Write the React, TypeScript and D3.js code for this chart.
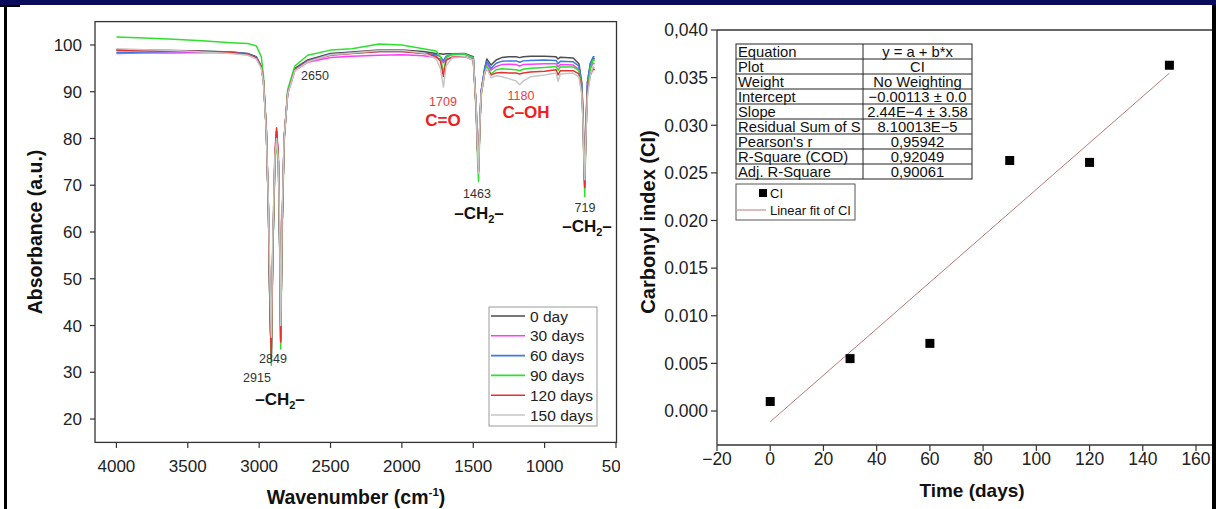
import React from 'react';
import * as d3 from 'd3';

// ---------- Left chart data (FTIR spectra) ----------
const wavenumbers = [4000,3800,3600,3400,3200,3080,3020,2985,2970,2950,2935,2925,2915,2905,2890,2878,2865,2855,2849,2840,2825,2800,2750,2660,2500,2350,2160,2000,1850,1760,1730,1709,1690,1650,1560,1500,1480,1470,1463,1455,1445,1420,1405,1375,1340,1300,1250,1200,1175,1150,1100,1000,920,906,890,800,760,740,730,725,719,712,700,680,660,650];

const day0 = [99.0,98.9,98.8,98.7,98.5,98.2,97.5,95.5,92.5,82,65,45,33.5,55,75,81.5,75,55,37,60,80,90,95,96.8,98.2,98.5,98.9,98.9,98.6,98.2,98.1,98.0,98.1,98.1,98.2,97.5,87,78,73.5,82,90,95,97,95.7,96.8,97.3,97.5,97.5,97.3,97.5,97.6,97.6,97.5,97.0,97.4,97.2,96.0,92,85,77,70,82,92,96,97.2,97.0];
const day30 = [98.2,98.3,98.3,98.4,98.3,98.0,97.3,95.3,92.3,82,65,45,33.5,55,75,81.5,75,55,37,60,80,89.5,94.5,96.3,97.3,97.6,97.8,97.9,97.7,97.3,97.0,96.2,97.0,97.3,97.5,97.0,87,78,73,82,90,94.5,96,94.6,95.4,95.8,95.9,95.8,95.5,95.8,95.9,96.0,96.0,95.3,95.8,95.7,94.8,91,84,76,69.5,81,91,95,96.1,96.0];
const day60 = [98.4,98.5,98.6,98.6,98.5,98.1,97.4,95.4,92.4,82,65,45,33,55,75,81.5,75,55,36.5,60,80,89.8,94.8,96.6,98.0,98.3,98.6,98.6,98.3,97.9,97.5,96.6,97.6,97.9,98.0,97.3,87,78,73,82,90,95,96.5,95,96.1,96.5,96.6,96.6,96.3,96.6,96.7,96.8,96.7,96.0,96.5,96.4,95.5,91.5,84.5,76.5,69.8,81.5,92,96,97.5,97.5];
const day90 = [101.7,101.5,101.2,100.9,100.5,100.3,99.8,97.5,93.5,82,64,44,31.5,54,74,80,74,54,35,58,79,90.5,95.5,97.8,98.9,99.2,100.2,100.0,99.2,98.7,97.5,94.0,97.3,98.0,98.1,97.3,86,76,70.8,81,89,94,95.5,93.8,94.7,94.9,94.8,94.7,94.5,94.8,95.0,95.2,95.4,94.6,95.3,95.3,94.5,90.5,83,74,67.6,79,90,95,96.8,96.6];
const day120 = [98.8,98.8,98.7,98.6,98.4,98.0,97.2,95.3,92.3,82,65,45,33,56,77,82.3,76,56,36.5,60,80,89.7,94.7,96.5,97.8,98.2,98.6,98.6,98.2,97.6,96.5,93.3,96.7,97.4,97.5,96.8,86.5,77.5,73,81.5,89.5,94,95,93.6,94.0,94.1,94.0,94.0,93.8,94.0,94.2,94.4,94.7,93.6,94.5,94.5,93.8,90,83.5,75.5,69.5,80,90,93.5,95.0,94.6];
const day150 = [99.2,99.0,98.8,98.5,98.2,97.8,97.0,95,92,81.5,66,50,37.5,58,76,80,75,58,40,62,80,89.5,94.5,96.4,97.9,98.3,98.8,98.8,98.3,97.0,95.0,91.0,95.5,97.2,97.5,96.8,87,78,72.5,82,89.5,94,95,93,93.4,93.2,92.8,92.3,91.5,92.3,93.2,93.6,94.0,92.2,93.8,94.0,93.2,89.5,83,76,71.2,80,89,93.5,95.4,95.0];

const seriesNames = ['0 day', '30 days', '60 days', '90 days', '120 days', '150 days'];
const seriesValues = [day0, day30, day60, day90, day120, day150];
const seriesColors = ['#4d4d4d', '#ff3cff', '#3a7be0', '#2ee02e', '#e53232', '#c6c6c6'];

const absTicks = [20, 30, 40, 50, 60, 70, 80, 90, 100];
const wnTicks = [4000, 3500, 3000, 2500, 2000, 1500, 1000, 500];

// ---------- Right chart data (carbonyl index) ----------
const timeDays = [0, 30, 60, 90, 120, 150];
const carbonylIndex = [0.0010, 0.0055, 0.0071, 0.0263, 0.0261, 0.0363];
const fitIntercept = -0.00113;
const fitSlope = 2.44e-4;
const fitRange = [0, 150];
const ciTicks = [0, 0.005, 0.01, 0.015, 0.02, 0.025, 0.03, 0.035, 0.04];
const ciTickLabels = ['0.000', '0.005', '0.010', '0.015', '0.020', '0.025', '0.030', '0.035', '0,040'];
const timeTicks = [-20, 0, 20, 40, 60, 80, 100, 120, 140, 160];
const tableLabels = ['Equation', 'Plot', 'Weight', 'Intercept', 'Slope', 'Residual Sum of S', "Pearson's r", 'R-Square (COD)', 'Adj. R-Square'];
const tableValues = ['y = a + b*x', 'CI', 'No Weighting', '\u22120.00113 \u00b1 0.0', '2.44E\u22124 \u00b1 3.58', '8.10013E\u22125', '0,95942', '0,92049', '0,90061'];

const FONT = '"Liberation Sans", Arial, Helvetica, sans-serif';

function CH2({ x, y }: { x: number; y: number }) {
  return (
    <text x={x} y={y} textAnchor="middle" fontFamily={FONT} fontWeight="bold" fontSize={17} fill="#111">
      –CH<tspan fontSize={11} dy={4}>2</tspan><tspan dy={-4}>–</tspan>
    </text>
  );
}

export default function App() {
  // Left chart scales
  const xL = d3.scaleLinear().domain([4150, 500]).range([95, 616]);
  const yL = d3.scaleLinear().domain([15, 105]).range([442.4, 21.6]);
  const line = d3
    .line<number>()
    .x((_, i) => xL(wavenumbers[i]))
    .y((d) => yL(d));

  // Right chart scales
  const xR = d3.scaleLinear().domain([-20, 160]).range([717, 1196]);
  const yR = d3.scaleLinear().domain([0, 0.04]).range([411, 30]);
  const rBottom = yR(-0.00357);
  const rRight = 1213;
  const fitLine = d3
    .line<number>()
    .x((d) => xR(d))
    .y((d) => yR(fitIntercept + fitSlope * d));

  const tblX = 736, tblY = 44, rowH = 15, colSplit = 863, tblR = 972;

  return (
    <svg width={1216} height={509} style={{ position: 'absolute', left: 0, top: 0, background: '#fff' }}>
      <defs>
        <clipPath id="leftClip">
          <rect x={0} y={0} width={620} height={509} />
        </clipPath>
        <clipPath id="plotL">
          <rect x={95} y={21.6} width={521} height={420.8} />
        </clipPath>
      </defs>
      <rect x={0} y={0} width={1216} height={509} fill="#fff" />

      {/* ---------- LEFT CHART ---------- */}
      <g clipPath="url(#leftClip)" fontFamily={FONT}>
        <g clipPath="url(#plotL)">
          {seriesValues.map((vals, i) => (
            <path key={i} d={line(vals) || ''} fill="none" stroke={seriesColors[i]} strokeWidth={1.5} strokeLinejoin="round" />
          ))}
        </g>
        <rect x={95} y={21.6} width={521.5} height={420.8} fill="none" stroke="#333" strokeWidth={1.3} />
        {absTicks.map((t) => (
          <g key={t}>
            <line x1={90} x2={95} y1={yL(t)} y2={yL(t)} stroke="#333" strokeWidth={1.2} />
            <text x={82} y={yL(t)} dy="0.36em" textAnchor="end" fontSize={17} fill="#222">{t}</text>
          </g>
        ))}
        {wnTicks.map((t) => (
          <g key={t}>
            <line x1={xL(t)} x2={xL(t)} y1={442.4} y2={448} stroke="#333" strokeWidth={1.2} />
            <text x={xL(t)} y={472} textAnchor="middle" fontSize={17} fill="#222">{t}</text>
          </g>
        ))}
        <text x={356} y={504} textAnchor="middle" fontSize={19.5} fontWeight="bold" fill="#111">
          Wavenumber (cm<tspan fontSize={11.5} dy={-8}>-1</tspan><tspan dy={8}>)</tspan>
        </text>
        <text transform="translate(42,232) rotate(-90)" textAnchor="middle" fontSize={19.5} fontWeight="bold" fill="#111">
          Absorbance (a.u.)
        </text>

        {/* annotations */}
        <text x={315} y={80} textAnchor="middle" fontSize={12.5} fill="#333">2650</text>
        <text x={443} y={106} textAnchor="middle" fontSize={12.5} fill="#f03a3a">1709</text>
        <text x={443} y={126} textAnchor="middle" fontSize={17} fontWeight="bold" fill="#f02020">C=O</text>
        <text x={521} y={100} textAnchor="middle" fontSize={12.5} fill="#f03a3a">1180</text>
        <text x={526} y={118} textAnchor="middle" fontSize={17} fontWeight="bold" fill="#f02020">C–OH</text>
        <text x={477} y={198} textAnchor="middle" fontSize={12.5} fill="#333">1463</text>
        <CH2 x={479} y={219} />
        <text x={585} y={212} textAnchor="middle" fontSize={12.5} fill="#333">719</text>
        <CH2 x={587} y={232} />
        <text x={273} y={363} textAnchor="middle" fontSize={12.5} fill="#333">2849</text>
        <text x={257} y={382} textAnchor="middle" fontSize={12.5} fill="#333">2915</text>
        <CH2 x={280} y={405} />

        {/* legend */}
        <rect x={489} y={307} width={108} height={119} fill="#fff" stroke="#999" strokeWidth={1} />
        {seriesNames.map((n, i) => (
          <g key={n}>
            <line x1={491} x2={525} y1={316 + i * 19.8} y2={316 + i * 19.8} stroke={seriesColors[i]} strokeWidth={1.6} />
            <text x={530} y={316 + i * 19.8} dy="0.36em" fontSize={15.5} fill="#222">{n}</text>
          </g>
        ))}
      </g>

      {/* ---------- RIGHT CHART ---------- */}
      <g fontFamily={FONT}>
        <path d={fitLine(fitRange) || ''} fill="none" stroke="#b87a7a" strokeWidth={1} />
        {timeDays.map((t, i) => (
          <rect key={t} x={xR(t) - 4.5} y={yR(carbonylIndex[i]) - 4.5} width={9} height={9} fill="#000" />
        ))}
        <line x1={717} x2={717} y1={30} y2={rBottom} stroke="#333" strokeWidth={1.3} />
        <line x1={717} x2={rRight} y1={30} y2={30} stroke="#333" strokeWidth={1.3} />
        <line x1={717} x2={rRight} y1={rBottom} y2={rBottom} stroke="#333" strokeWidth={1.3} />
        {ciTicks.map((t, i) => (
          <g key={t}>
            <line x1={711} x2={717} y1={yR(t)} y2={yR(t)} stroke="#333" strokeWidth={1.2} />
            <text x={708} y={yR(t)} dy="0.36em" textAnchor="end" fontSize={17.5} fill="#222">{ciTickLabels[i]}</text>
          </g>
        ))}
        {timeTicks.map((t) => (
          <g key={t}>
            <line x1={xR(t)} x2={xR(t)} y1={rBottom} y2={rBottom + 6} stroke="#333" strokeWidth={1.2} />
            <text x={xR(t)} y={465} textAnchor="middle" fontSize={17.5} fill="#222">{t < 0 ? '\u2212' + Math.abs(t) : t}</text>
          </g>
        ))}
        <text x={972} y={497} textAnchor="middle" fontSize={19} fontWeight="bold" fill="#111">Time (days)</text>
        <text transform="translate(655,222) rotate(-90)" textAnchor="middle" fontSize={20} fontWeight="bold" fill="#111">
          Carbonyl index (CI)
        </text>

        {/* fit table */}
        <rect x={tblX} y={tblY} width={tblR - tblX} height={rowH * tableLabels.length} fill="#fff" stroke="#222" strokeWidth={1} />
        <line x1={colSplit} x2={colSplit} y1={tblY} y2={tblY + rowH * tableLabels.length} stroke="#222" strokeWidth={1} />
        {tableLabels.map((l, i) => (
          <g key={l}>
            {i > 0 && <line x1={tblX} x2={tblR} y1={tblY + i * rowH} y2={tblY + i * rowH} stroke="#222" strokeWidth={1} />}
            <text x={tblX + 2} y={tblY + i * rowH + 12.5} fontSize={14.8} fill="#111">{l}</text>
            <text x={(colSplit + tblR) / 2} y={tblY + i * rowH + 12.5} textAnchor="middle" fontSize={14.8} fill="#111">{tableValues[i]}</text>
          </g>
        ))}

        {/* legend */}
        <rect x={736} y={184} width={119} height={36} fill="#fff" stroke="#555" strokeWidth={1} />
        <rect x={759} y={189} width={8} height={8} fill="#000" />
        <text x={770} y={193} dy="0.36em" fontSize={13} fill="#111">CI</text>
        <line x1={737} x2={766} y1={210} y2={210} stroke="#b87a7a" strokeWidth={1} />
        <text x={770} y={210} dy="0.36em" fontSize={13} fill="#111">Linear fit of CI</text>
      </g>

      {/* ---------- frame / borders ---------- */}
      <rect x={0} y={0} width={1216} height={5} fill="#0b0b5c" />
      <rect x={4} y={5} width={3} height={504} fill="#000" />
      <rect x={0} y={5} width={20} height={2} fill="#000" />
      <rect x={1212} y={5} width={4} height={504} fill="#000" />
    </svg>
  );
}
